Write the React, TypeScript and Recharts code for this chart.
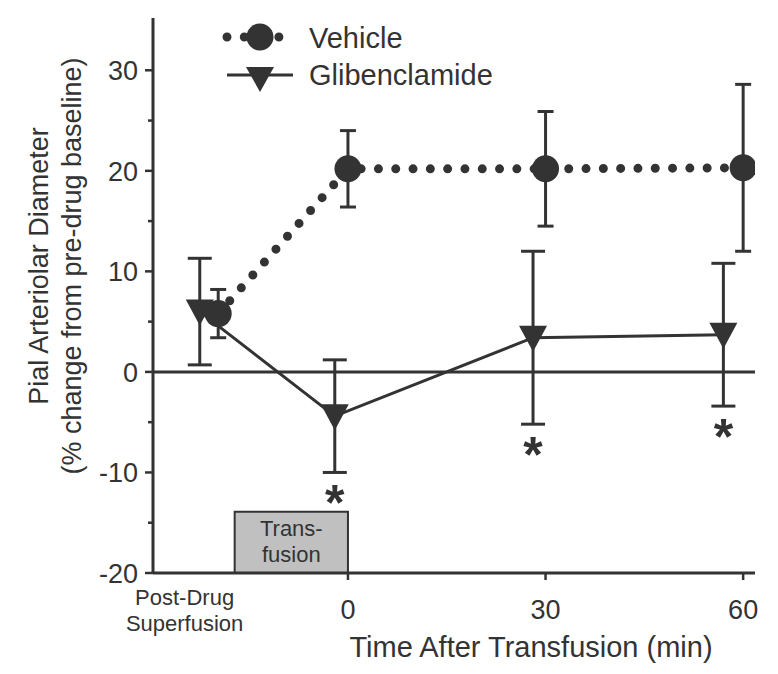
import {
  ComposedChart,
  Line,
  Scatter,
  XAxis,
  YAxis,
  ErrorBar,
  ReferenceLine,
  ReferenceArea,
  Legend,
} from "recharts";

const ink = "#333333";
const font = "'Liberation Sans', Arial, sans-serif";

// time (min) relative to end of transfusion; first point is post-drug superfusion
const vehicleTime = [-19.7, 0, 30, 60];
const vehicleMean = [5.8, 20.2, 20.2, 20.3];
const vehicleSem = [2.4, 3.8, 5.7, 8.3];

const glibTime = [-22.5, -2, 28.1, 57];
const glibMean = [6.0, -4.4, 3.4, 3.7];
const glibSem = [5.3, 5.6, 8.6, 7.1];
const glibSignificant = [false, true, true, true];

const postDrugTick = -24.8;
const xTicks = [postDrugTick, 0, 30, 60];
const yTicks = [-20, -15, -10, -5, 0, 5, 10, 15, 20, 25, 30];

const transfusionStart = -17.2;
const transfusionEnd = 0;
const transfusionTop = -13.9;

const vehicleData = vehicleTime.map((t, i) => ({ t, mean: vehicleMean[i], sem: vehicleSem[i] }));
const glibData = glibTime.map((t, i) => ({ t, mean: glibMean[i], sem: glibSem[i] }));
const starData = glibData
  .filter((_, i) => glibSignificant[i])
  .map((d) => ({ t: d.t, low: d.mean - d.sem }));

const CircleDot = (props: any) => {
  const { cx, cy } = props;
  if (cx == null || cy == null) return null;
  return <circle cx={cx} cy={cy} r={13.5} fill={ink} />;
};

const TriangleDot = (props: any) => {
  const { cx, cy } = props;
  if (cx == null || cy == null) return null;
  return (
    <polygon
      points={`${cx - 14},${cy - 12} ${cx + 14},${cy - 12} ${cx},${cy + 14}`}
      fill={ink}
    />
  );
};

const Star = (props: any) => {
  const { cx, cy } = props;
  return (
    <text
      x={cx}
      y={cy + 48}
      textAnchor="middle"
      fontSize={50}
      fontWeight="bold"
      fontFamily={font}
      fill={ink}
    >
      *
    </text>
  );
};

const YTick = (props: any) => {
  const { x, y, payload } = props;
  const major = payload.value % 10 === 0;
  return (
    <g>
      <line x1={x - (major ? 8 : 5)} x2={x} y1={y} y2={y} stroke={ink} strokeWidth={2.5} />
      {major && (
        <text
          x={x - 15}
          y={y}
          dy="0.36em"
          textAnchor="end"
          fontSize={27}
          fontFamily={font}
          fill={ink}
        >
          {payload.value}
        </text>
      )}
    </g>
  );
};

const XTick = (props: any) => {
  const { x, y, payload } = props;
  if (payload.value === postDrugTick) {
    return (
      <g fontSize={22} fontFamily={font} fill={ink} textAnchor="middle">
        <text x={x} y={y + 32}>Post-Drug</text>
        <text x={x} y={y + 58}>Superfusion</text>
      </g>
    );
  }
  return (
    <g>
      <line x1={x} x2={x} y1={y} y2={y + 7} stroke={ink} strokeWidth={2.5} />
      <text x={x} y={y + 46} textAnchor="middle" fontSize={27} fontFamily={font} fill={ink}>
        {payload.value}
      </text>
    </g>
  );
};

const YTitle = (props: any) => {
  const { viewBox } = props;
  const cy = viewBox.y + 248;
  return (
    <g fontSize={27} fontFamily={font} fill={ink} textAnchor="middle">
      <text transform={`translate(48,${cy}) rotate(-90)`}>Pial Arteriolar Diameter</text>
      <text transform={`translate(81,${cy}) rotate(-90)`}>
        (% change from pre-drug baseline)
      </text>
    </g>
  );
};

const XTitle = () => (
  <text x={531} y={657} textAnchor="middle" fontSize={29} fontFamily={font} fill={ink}>
    Time After Transfusion (min)
  </text>
);

const TransfusionLabel = (props: any) => {
  const { viewBox } = props;
  const cx = viewBox.x + viewBox.width / 2;
  return (
    <g fontSize={22} fontFamily={font} fill={ink} textAnchor="middle">
      <text x={cx} y={viewBox.y + 24}>Trans-</text>
      <text x={cx} y={viewBox.y + 50}>fusion</text>
    </g>
  );
};

const LegendBox = () => (
  <svg width={520} height={100} style={{ display: "block" }}>
    <line
      x1={227}
      x2={279}
      y1={37}
      y2={37}
      stroke={ink}
      strokeWidth={9}
      strokeLinecap="round"
      strokeDasharray="0 17.3"
    />
    <circle cx={260} cy={37} r={13.5} fill={ink} />
    <text x={309} y={48} fontSize={29} fontFamily={font} fill={ink}>
      Vehicle
    </text>
    <line x1={227} x2={293} y1={75} y2={75} stroke={ink} strokeWidth={3} />
    <polygon points="246,67 274,67 260,92" fill={ink} />
    <text x={309} y={85} fontSize={29} fontFamily={font} fill={ink}>
      Glibenclamide
    </text>
  </svg>
);

export default function App() {
  return (
    <div style={{ position: "absolute", left: 0, top: 0, background: "#fff" }}>
      <ComposedChart
        width={778}
        height={674}
        margin={{ top: 18, right: 23, bottom: 0, left: 0 }}
      >
        <XAxis
          dataKey="t"
          type="number"
          domain={[-29.6, 61.8]}
          ticks={xTicks}
          interval={0}
          allowDataOverflow
          height={101}
          axisLine={{ stroke: ink, strokeWidth: 3 }}
          tickLine={false}
          tickSize={0}
          tickMargin={0}
          tick={<XTick />}
          label={<XTitle />}
        />
        <YAxis
          type="number"
          domain={[-20, 35.2]}
          ticks={yTicks}
          interval={0}
          allowDataOverflow
          width={153}
          axisLine={{ stroke: ink, strokeWidth: 3 }}
          tickLine={false}
          tickSize={0}
          tickMargin={0}
          tick={<YTick />}
          label={<YTitle />}
        />
        <Legend
          layout="horizontal"
          verticalAlign="middle"
          align="center"
          wrapperStyle={{ position: "absolute", top: 0, left: 0, width: 520, height: 100 }}
          content={<LegendBox />}
        />
        <ReferenceArea
          x1={transfusionStart}
          x2={transfusionEnd}
          y1={-20}
          y2={transfusionTop}
          fill="#c0c0c0"
          fillOpacity={1}
          stroke={ink}
          strokeWidth={2}
          label={<TransfusionLabel />}
        />
        <ReferenceLine y={0} stroke={ink} strokeWidth={3} />
        <Line
          data={glibData}
          dataKey="mean"
          stroke={ink}
          strokeWidth={3}
          dot={<TriangleDot />}
          activeDot={false}
          isAnimationActive={false}
          legendType="none"
        >
          <ErrorBar dataKey="sem" direction="y" width={12} stroke={ink} strokeWidth={3} />
        </Line>
        <Line
          data={vehicleData}
          dataKey="mean"
          stroke={ink}
          strokeWidth={9}
          strokeLinecap="round"
          strokeDasharray="0 17.3"
          dot={<CircleDot />}
          activeDot={false}
          isAnimationActive={false}
          legendType="none"
        >
          <ErrorBar dataKey="sem" direction="y" width={8} stroke={ink} strokeWidth={3} />
        </Line>
        <Scatter
          data={starData}
          dataKey="low"
          shape={<Star />}
          isAnimationActive={false}
          legendType="none"
        />
      </ComposedChart>
    </div>
  );
}
